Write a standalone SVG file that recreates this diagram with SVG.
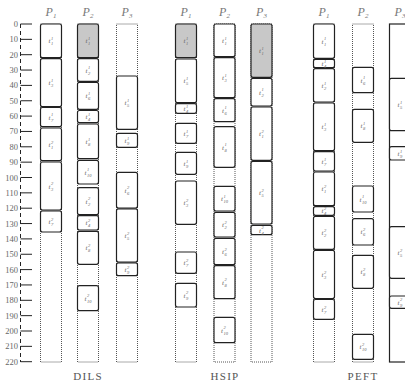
<svg xmlns="http://www.w3.org/2000/svg" width="405" height="387" viewBox="0 0 405 387">
<style>
.col{fill:#fff;stroke:#555;stroke-width:1;stroke-dasharray:1 1}
.cols{fill:#fff;stroke:#222;stroke-width:1.2}
.b{fill:#fff;stroke:#222;stroke-width:1.2}
.g{fill:#c8c8c8;stroke:#222;stroke-width:1.2}
.t{font-family:"Liberation Serif",serif;font-style:italic;font-size:7px;fill:#666}
.s{font-size:4.5px}
.p{font-family:"Liberation Serif",serif;font-style:italic;font-size:12px;fill:#777;text-anchor:middle}
.ps{font-size:7px}
.ax{stroke:#222;stroke-width:1}
.axd{stroke:#222;stroke-width:1;stroke-dasharray:4 3}
.n{font-family:"Liberation Serif",serif;font-size:8.5px;fill:#666;text-anchor:end}
.ttl{font-family:"Liberation Serif",serif;font-size:11px;letter-spacing:1.3px;fill:#555;text-anchor:middle}
</style>
<rect width="405" height="387" fill="#fff"/>
<g id="axis">
<line class="axd" x1="20.5" y1="24" x2="20.5" y2="362"/>
<g class="ax">
<line x1="20.5" y1="24" x2="32" y2="24"/><line x1="20.5" y1="39.35" x2="32" y2="39.35"/><line x1="20.5" y1="54.7" x2="32" y2="54.7"/><line x1="20.5" y1="70.05" x2="32" y2="70.05"/><line x1="20.5" y1="85.4" x2="32" y2="85.4"/><line x1="20.5" y1="100.75" x2="32" y2="100.75"/><line x1="20.5" y1="116.1" x2="32" y2="116.1"/><line x1="20.5" y1="131.45" x2="32" y2="131.45"/><line x1="20.5" y1="146.8" x2="32" y2="146.8"/><line x1="20.5" y1="162.15" x2="32" y2="162.15"/><line x1="20.5" y1="177.5" x2="32" y2="177.5"/><line x1="20.5" y1="192.85" x2="32" y2="192.85"/><line x1="20.5" y1="208.2" x2="32" y2="208.2"/><line x1="20.5" y1="223.55" x2="32" y2="223.55"/><line x1="20.5" y1="238.9" x2="32" y2="238.9"/><line x1="20.5" y1="254.25" x2="32" y2="254.25"/><line x1="20.5" y1="269.6" x2="32" y2="269.6"/><line x1="20.5" y1="284.95" x2="32" y2="284.95"/><line x1="20.5" y1="300.3" x2="32" y2="300.3"/><line x1="20.5" y1="315.65" x2="32" y2="315.65"/><line x1="20.5" y1="331" x2="32" y2="331"/><line x1="20.5" y1="346.35" x2="32" y2="346.35"/><line x1="20.5" y1="361.7" x2="32" y2="361.7"/>
</g>
<g class="n">
<text x="18" y="27">0</text><text x="18" y="42.4">10</text><text x="18" y="57.7">20</text><text x="18" y="73">30</text><text x="18" y="88.4">40</text><text x="18" y="103.7">50</text><text x="18" y="119.1">60</text><text x="18" y="134.4">70</text><text x="18" y="149.8">80</text><text x="18" y="165.1">90</text><text x="18" y="180.5">100</text><text x="18" y="195.8">110</text><text x="18" y="211.2">120</text><text x="18" y="226.5">130</text><text x="18" y="241.9">140</text><text x="18" y="257.2">150</text><text x="18" y="272.6">160</text><text x="18" y="287.9">170</text><text x="18" y="303.3">180</text><text x="18" y="318.6">190</text><text x="18" y="334">200</text><text x="18" y="349.3">210</text><text x="18" y="364.7">220</text>
</g>
</g>
<g id="columns">
<rect class="col" x="40.5" y="24" width="21" height="338"/>
<rect class="col" x="77.5" y="24" width="21" height="338"/>
<rect class="col" x="116.5" y="24" width="21" height="338"/>
<rect class="col" x="175.5" y="24" width="21" height="338"/>
<rect class="col" x="214" y="24" width="21" height="338"/>
<rect class="col" x="251" y="24" width="21" height="338"/>
<rect class="col" x="313.5" y="24" width="21" height="338"/>
<rect class="col" x="352.5" y="24" width="21" height="338"/>
<rect class="cols" x="389.5" y="24" width="21" height="338"/>
</g>
<g id="headers">
<text class="p" x="51" y="16">P<tspan class="ps" dy="2">1</tspan></text>
<text class="p" x="88" y="16">P<tspan class="ps" dy="2">2</tspan></text>
<text class="p" x="127" y="16">P<tspan class="ps" dy="2">3</tspan></text>
<text class="p" x="186" y="16">P<tspan class="ps" dy="2">1</tspan></text>
<text class="p" x="224.5" y="16">P<tspan class="ps" dy="2">2</tspan></text>
<text class="p" x="261.5" y="16">P<tspan class="ps" dy="2">3</tspan></text>
<text class="p" x="324" y="16">P<tspan class="ps" dy="2">1</tspan></text>
<text class="p" x="363" y="16">P<tspan class="ps" dy="2">2</tspan></text>
<text class="p" x="400" y="16">P<tspan class="ps" dy="2">3</tspan></text>
<text class="ttl" x="88" y="380">DILS</text>
<text class="ttl" x="225" y="380">HSIP</text>
<text class="ttl" x="363" y="380">PEFT</text>
</g>
<g id="connectors"/>
<g id="dils-p1-t1-1"><rect class="b" x="40.5" y="24" width="21" height="33.7" rx="2"/><text class="t" x="48.5" y="43.3">t<tspan class="s" x="51" y="40">1</tspan><tspan class="s" x="51" y="45.3">1</tspan></text></g>
<g id="dils-p1-t3-1"><rect class="b" x="40.5" y="58.7" width="21" height="48" rx="2"/><text class="t" x="48.5" y="85.2">t<tspan class="s" x="51" y="81.9">1</tspan><tspan class="s" x="51" y="87.2">3</tspan></text></g>
<g id="dils-p1-t7-1"><rect class="b" x="40.5" y="107.5" width="21" height="19.2" rx="2"/><text class="t" x="48.5" y="119.6">t<tspan class="s" x="51" y="116.3">1</tspan><tspan class="s" x="51" y="121.6">7</tspan></text></g>
<g id="dils-p1-t1-2"><rect class="b" x="40.5" y="128" width="21" height="32.7" rx="2"/><text class="t" x="48.5" y="146.8">t<tspan class="s" x="51" y="143.5">2</tspan><tspan class="s" x="51" y="148.8">1</tspan></text></g>
<g id="dils-p1-t3-2"><rect class="b" x="40.5" y="162" width="21" height="48" rx="2"/><text class="t" x="48.5" y="188.5">t<tspan class="s" x="51" y="185.2">2</tspan><tspan class="s" x="51" y="190.5">3</tspan></text></g>
<g id="dils-p1-t7-2"><rect class="b" x="40.5" y="211" width="21" height="21" rx="2"/><text class="t" x="48.5" y="224">t<tspan class="s" x="51" y="220.7">2</tspan><tspan class="s" x="51" y="226">7</tspan></text></g>
<g id="dils-p2-t1-1"><rect class="g" x="77.5" y="24" width="21" height="33.7" rx="2"/><text class="t" x="85.5" y="43.3">t<tspan class="s" x="88" y="40">1</tspan><tspan class="s" x="88" y="45.3">1</tspan></text></g>
<g id="dils-p2-t2-1"><rect class="b" x="77.5" y="58.7" width="21" height="22.6" rx="2"/><text class="t" x="85.5" y="72.5">t<tspan class="s" x="88" y="69.2">1</tspan><tspan class="s" x="88" y="74.5">2</tspan></text></g>
<g id="dils-p2-t6-1"><rect class="b" x="77.5" y="82.3" width="21" height="27" rx="2"/><text class="t" x="85.5" y="98.3">t<tspan class="s" x="88" y="95">1</tspan><tspan class="s" x="88" y="100.3">6</tspan></text></g>
<g id="dils-p2-t4-1"><rect class="b" x="77.5" y="110.5" width="21" height="12.2" rx="2"/><text class="t" x="85.5" y="119.1">t<tspan class="s" x="88" y="115.8">1</tspan><tspan class="s" x="88" y="121.1">4</tspan></text></g>
<g id="dils-p2-t8-1"><rect class="b" x="77.5" y="124" width="21" height="34.7" rx="2"/><text class="t" x="85.5" y="143.8">t<tspan class="s" x="88" y="140.5">1</tspan><tspan class="s" x="88" y="145.8">8</tspan></text></g>
<g id="dils-p2-t10-1"><rect class="b" x="77.5" y="160.3" width="21" height="23.7" rx="2"/><text class="t" x="84.5" y="174.6">t<tspan class="s" x="87" y="171.3">1</tspan><tspan class="s" x="87" y="176.6">10</tspan></text></g>
<g id="dils-p2-t2-2"><rect class="b" x="77.5" y="187.7" width="21" height="27" rx="2"/><text class="t" x="85.5" y="203.7">t<tspan class="s" x="88" y="200.4">2</tspan><tspan class="s" x="88" y="205.7">2</tspan></text></g>
<g id="dils-p2-t4-2"><rect class="b" x="77.5" y="215.7" width="21" height="14.3" rx="2"/><text class="t" x="85.5" y="225.4">t<tspan class="s" x="88" y="222.1">2</tspan><tspan class="s" x="88" y="227.4">4</tspan></text></g>
<g id="dils-p2-t8-2"><rect class="b" x="77.5" y="231.3" width="21" height="33" rx="2"/><text class="t" x="85.5" y="250.3">t<tspan class="s" x="88" y="247">2</tspan><tspan class="s" x="88" y="252.3">8</tspan></text></g>
<g id="dils-p2-t10-2"><rect class="b" x="77.5" y="285.7" width="21" height="25" rx="2"/><text class="t" x="84.5" y="300.7">t<tspan class="s" x="87" y="297.4">2</tspan><tspan class="s" x="87" y="302.7">10</tspan></text></g>
<g id="dils-p3-t5-1"><rect class="b" x="116.5" y="76" width="21" height="53.3" rx="2"/><text class="t" x="124.5" y="105.1">t<tspan class="s" x="127" y="101.8">1</tspan><tspan class="s" x="127" y="107.1">5</tspan></text></g>
<g id="dils-p3-t9-1"><rect class="b" x="116.5" y="133.3" width="21" height="14" rx="2"/><text class="t" x="124.5" y="142.8">t<tspan class="s" x="127" y="139.5">1</tspan><tspan class="s" x="127" y="144.8">9</tspan></text></g>
<g id="dils-p3-t6-2"><rect class="b" x="116.5" y="172.3" width="21" height="35.7" rx="2"/><text class="t" x="124.5" y="192.6">t<tspan class="s" x="127" y="189.3">2</tspan><tspan class="s" x="127" y="194.6">6</tspan></text></g>
<g id="dils-p3-t5-2"><rect class="b" x="116.5" y="208.8" width="21" height="53.2" rx="2"/><text class="t" x="124.5" y="237.9">t<tspan class="s" x="127" y="234.6">2</tspan><tspan class="s" x="127" y="239.9">5</tspan></text></g>
<g id="dils-p3-t9-2"><rect class="b" x="116.5" y="262.8" width="21" height="12.9" rx="2"/><text class="t" x="124.5" y="271.8">t<tspan class="s" x="127" y="268.5">2</tspan><tspan class="s" x="127" y="273.8">9</tspan></text></g>
<g id="hsip-p1-t1-1"><rect class="g" x="175.5" y="24" width="21" height="33.7" rx="2"/><text class="t" x="183.5" y="43.3">t<tspan class="s" x="186" y="40">1</tspan><tspan class="s" x="186" y="45.3">1</tspan></text></g>
<g id="hsip-p1-t5-1"><rect class="b" x="175.5" y="59" width="21" height="43.7" rx="2"/><text class="t" x="183.5" y="83.3">t<tspan class="s" x="186" y="80">1</tspan><tspan class="s" x="186" y="85.3">5</tspan></text></g>
<g id="hsip-p1-t4-1"><rect class="b" x="175.5" y="103.7" width="21" height="9.6" rx="2"/><text class="t" x="183.5" y="111">t<tspan class="s" x="186" y="107.7">1</tspan><tspan class="s" x="186" y="113">4</tspan></text></g>
<g id="hsip-p1-t7-1"><rect class="b" x="175.5" y="123.3" width="21" height="20" rx="2"/><text class="t" x="183.5" y="135.8">t<tspan class="s" x="186" y="132.5">1</tspan><tspan class="s" x="186" y="137.8">7</tspan></text></g>
<g id="hsip-p1-t9-1"><rect class="b" x="175.5" y="152.3" width="21" height="22" rx="2"/><text class="t" x="183.5" y="165.8">t<tspan class="s" x="186" y="162.5">1</tspan><tspan class="s" x="186" y="167.8">9</tspan></text></g>
<g id="hsip-p1-t3-2"><rect class="b" x="175.5" y="181" width="21" height="43.3" rx="2"/><text class="t" x="183.5" y="205.2">t<tspan class="s" x="186" y="201.9">2</tspan><tspan class="s" x="186" y="207.2">3</tspan></text></g>
<g id="hsip-p1-t7-2"><rect class="b" x="175.5" y="252" width="21" height="21.3" rx="2"/><text class="t" x="183.5" y="265.2">t<tspan class="s" x="186" y="261.9">2</tspan><tspan class="s" x="186" y="267.2">7</tspan></text></g>
<g id="hsip-p1-t9-2"><rect class="b" x="175.5" y="283.3" width="21" height="23.7" rx="2"/><text class="t" x="183.5" y="297.7">t<tspan class="s" x="186" y="294.4">2</tspan><tspan class="s" x="186" y="299.7">9</tspan></text></g>
<g id="hsip-p2-t1-1"><rect class="b" x="214" y="24" width="21" height="32.7" rx="2"/><text class="t" x="222" y="42.9">t<tspan class="s" x="224.5" y="39.6">1</tspan><tspan class="s" x="224.5" y="44.9">1</tspan></text></g>
<g id="hsip-p2-t3-1"><rect class="b" x="214" y="57.7" width="21" height="40" rx="2"/><text class="t" x="222" y="80.2">t<tspan class="s" x="224.5" y="76.9">1</tspan><tspan class="s" x="224.5" y="82.2">3</tspan></text></g>
<g id="hsip-p2-t6-1"><rect class="b" x="214" y="98.7" width="21" height="23" rx="2"/><text class="t" x="222" y="112.7">t<tspan class="s" x="224.5" y="109.4">1</tspan><tspan class="s" x="224.5" y="114.7">6</tspan></text></g>
<g id="hsip-p2-t8-1"><rect class="b" x="214" y="126.7" width="21" height="40.6" rx="2"/><text class="t" x="222" y="149.5">t<tspan class="s" x="224.5" y="146.2">1</tspan><tspan class="s" x="224.5" y="151.5">8</tspan></text></g>
<g id="hsip-p2-t10-1"><rect class="b" x="214" y="186.3" width="21" height="24.7" rx="2"/><text class="t" x="221" y="201.2">t<tspan class="s" x="223.5" y="197.9">1</tspan><tspan class="s" x="223.5" y="203.2">10</tspan></text></g>
<g id="hsip-p2-t2-2"><rect class="b" x="214" y="212.3" width="21" height="24.7" rx="2"/><text class="t" x="222" y="227.2">t<tspan class="s" x="224.5" y="223.9">2</tspan><tspan class="s" x="224.5" y="229.2">2</tspan></text></g>
<g id="hsip-p2-t6-2"><rect class="b" x="214" y="238.3" width="21" height="26.4" rx="2"/><text class="t" x="222" y="254">t<tspan class="s" x="224.5" y="250.7">2</tspan><tspan class="s" x="224.5" y="256">6</tspan></text></g>
<g id="hsip-p2-t8-2"><rect class="b" x="214" y="265.7" width="21" height="33" rx="2"/><text class="t" x="222" y="284.7">t<tspan class="s" x="224.5" y="281.4">2</tspan><tspan class="s" x="224.5" y="286.7">8</tspan></text></g>
<g id="hsip-p2-t10-2"><rect class="b" x="214" y="317.3" width="21" height="25.4" rx="2"/><text class="t" x="221" y="332.5">t<tspan class="s" x="223.5" y="329.2">2</tspan><tspan class="s" x="223.5" y="334.5">10</tspan></text></g>
<g id="hsip-p3-t1-1"><rect class="g" x="251" y="24" width="21" height="53.3" rx="2"/><text class="t" x="259" y="53.1">t<tspan class="s" x="261.5" y="49.8">1</tspan><tspan class="s" x="261.5" y="55.1">1</tspan></text></g>
<g id="hsip-p3-t2-1"><rect class="b" x="251" y="78.3" width="21" height="27.7" rx="2"/><text class="t" x="259" y="94.6">t<tspan class="s" x="261.5" y="91.3">1</tspan><tspan class="s" x="261.5" y="96.6">2</tspan></text></g>
<g id="hsip-p3-t1-2"><rect class="b" x="251" y="107" width="21" height="53.3" rx="2"/><text class="t" x="259" y="136.1">t<tspan class="s" x="261.5" y="132.8">2</tspan><tspan class="s" x="261.5" y="138.1">1</tspan></text></g>
<g id="hsip-p3-t5-2"><rect class="b" x="251" y="161.3" width="21" height="62.7" rx="2"/><text class="t" x="259" y="195.1">t<tspan class="s" x="261.5" y="191.8">2</tspan><tspan class="s" x="261.5" y="197.1">5</tspan></text></g>
<g id="hsip-p3-t4-2"><rect class="b" x="251" y="225.3" width="21" height="9.4" rx="2"/><text class="t" x="259" y="232.5">t<tspan class="s" x="261.5" y="229.2">2</tspan><tspan class="s" x="261.5" y="234.5">4</tspan></text></g>
<g id="peft-p1-t1-1"><rect class="b" x="313.5" y="24" width="21" height="34.3" rx="2"/><text class="t" x="321.5" y="43.6">t<tspan class="s" x="324" y="40.3">1</tspan><tspan class="s" x="324" y="45.6">1</tspan></text></g>
<g id="peft-p1-t4-1"><rect class="b" x="313.5" y="59.3" width="21" height="8.4" rx="2"/><text class="t" x="321.5" y="65.9">t<tspan class="s" x="324" y="62.6">1</tspan><tspan class="s" x="324" y="67.9">4</tspan></text></g>
<g id="peft-p1-t2-1"><rect class="b" x="313.5" y="68.7" width="21" height="33.3" rx="2"/><text class="t" x="321.5" y="87.8">t<tspan class="s" x="324" y="84.5">1</tspan><tspan class="s" x="324" y="89.8">2</tspan></text></g>
<g id="peft-p1-t3-1"><rect class="b" x="313.5" y="103" width="21" height="47.7" rx="2"/><text class="t" x="321.5" y="129.3">t<tspan class="s" x="324" y="126">1</tspan><tspan class="s" x="324" y="131.3">3</tspan></text></g>
<g id="peft-p1-t7-1"><rect class="b" x="313.5" y="151.7" width="21" height="19.3" rx="2"/><text class="t" x="321.5" y="163.8">t<tspan class="s" x="324" y="160.5">1</tspan><tspan class="s" x="324" y="165.8">7</tspan></text></g>
<g id="peft-p1-t1-2"><rect class="b" x="313.5" y="172" width="21" height="33.7" rx="2"/><text class="t" x="321.5" y="191.3">t<tspan class="s" x="324" y="188">2</tspan><tspan class="s" x="324" y="193.3">1</tspan></text></g>
<g id="peft-p1-t4-2"><rect class="b" x="313.5" y="206.7" width="21" height="8.6" rx="2"/><text class="t" x="321.5" y="213.4">t<tspan class="s" x="324" y="210.1">2</tspan><tspan class="s" x="324" y="215.4">4</tspan></text></g>
<g id="peft-p1-t2-2"><rect class="b" x="313.5" y="216.3" width="21" height="33" rx="2"/><text class="t" x="321.5" y="235.3">t<tspan class="s" x="324" y="232">2</tspan><tspan class="s" x="324" y="237.3">2</tspan></text></g>
<g id="peft-p1-t3-2"><rect class="b" x="313.5" y="250.3" width="21" height="48.2" rx="2"/><text class="t" x="321.5" y="276.9">t<tspan class="s" x="324" y="273.6">2</tspan><tspan class="s" x="324" y="278.9">3</tspan></text></g>
<g id="peft-p1-t7-2"><rect class="b" x="313.5" y="299.5" width="21" height="19.8" rx="2"/><text class="t" x="321.5" y="311.9">t<tspan class="s" x="324" y="308.6">2</tspan><tspan class="s" x="324" y="313.9">7</tspan></text></g>
<g id="peft-p2-t6-1"><rect class="b" x="352.5" y="67.3" width="21" height="25.4" rx="2"/><text class="t" x="360.5" y="82.5">t<tspan class="s" x="363" y="79.2">1</tspan><tspan class="s" x="363" y="84.5">6</tspan></text></g>
<g id="peft-p2-t8-1"><rect class="b" x="352.5" y="109.3" width="21" height="33" rx="2"/><text class="t" x="360.5" y="128.3">t<tspan class="s" x="363" y="125">1</tspan><tspan class="s" x="363" y="130.3">8</tspan></text></g>
<g id="peft-p2-t10-1"><rect class="b" x="352.5" y="186" width="21" height="26" rx="2"/><text class="t" x="359.5" y="201.5">t<tspan class="s" x="362" y="198.2">1</tspan><tspan class="s" x="362" y="203.5">10</tspan></text></g>
<g id="peft-p2-t6-2"><rect class="b" x="352.5" y="218.7" width="21" height="26.3" rx="2"/><text class="t" x="360.5" y="234.3">t<tspan class="s" x="363" y="231">2</tspan><tspan class="s" x="363" y="236.3">6</tspan></text></g>
<g id="peft-p2-t8-2"><rect class="b" x="352.5" y="255.3" width="21" height="33" rx="2"/><text class="t" x="360.5" y="274.3">t<tspan class="s" x="363" y="271">2</tspan><tspan class="s" x="363" y="276.3">8</tspan></text></g>
<g id="peft-p2-t10-2"><rect class="b" x="352.5" y="334.3" width="21" height="25" rx="2"/><text class="t" x="359.5" y="349.3">t<tspan class="s" x="362" y="346">2</tspan><tspan class="s" x="362" y="351.3">10</tspan></text></g>
<g id="peft-p3-t5-1"><rect class="b" x="389.5" y="78.3" width="21" height="52.4" rx="2"/><text class="t" x="397.5" y="107">t<tspan class="s" x="400" y="103.7">1</tspan><tspan class="s" x="400" y="109">5</tspan></text></g>
<g id="peft-p3-t9-1"><rect class="b" x="389.5" y="146.7" width="21" height="13.3" rx="2"/><text class="t" x="397.5" y="155.8">t<tspan class="s" x="400" y="152.5">1</tspan><tspan class="s" x="400" y="157.8">9</tspan></text></g>
<g id="peft-p3-t5-2"><rect class="b" x="389.5" y="226.7" width="21" height="51.6" rx="2"/><text class="t" x="397.5" y="255">t<tspan class="s" x="400" y="251.7">2</tspan><tspan class="s" x="400" y="257">5</tspan></text></g>
<g id="peft-p3-t9-2"><rect class="b" x="389.5" y="296" width="21" height="12.3" rx="2"/><text class="t" x="397.5" y="304.7">t<tspan class="s" x="400" y="301.4">2</tspan><tspan class="s" x="400" y="306.7">9</tspan></text></g>
</svg>
